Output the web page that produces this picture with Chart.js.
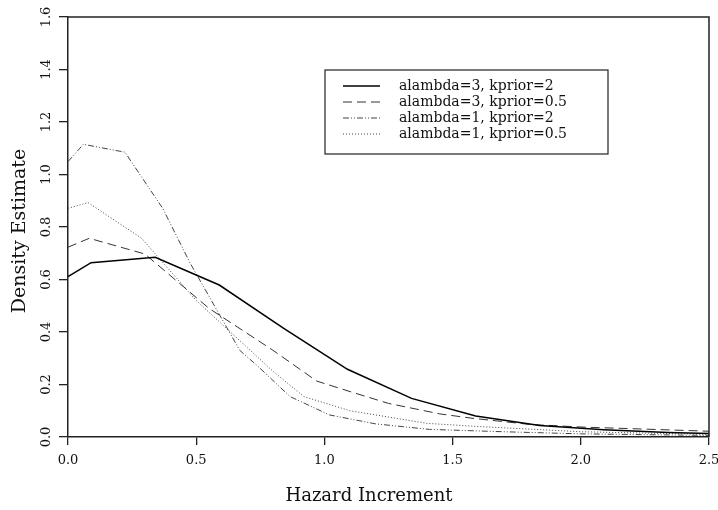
<!DOCTYPE html>
<html>
<head>
<meta charset="utf-8">
<script src="https://cdn.jsdelivr.net/npm/chart.js@4"></script>
<style>
  html, body { margin: 0; padding: 0; background: #fff; }
</style>
</head>
<body>
<canvas id="c" width="718" height="510"></canvas>
<script>
// series labels
const seriesLabels = [
    'alambda=3, kprior=2',
    'alambda=3, kprior=0.5',
    'alambda=1, kprior=2',
    'alambda=1, kprior=0.5'
];

// alambda=3, kprior=2
const a3k2X = [0, 0.09, 0.34, 0.59, 0.84, 1.09, 1.34, 1.59, 1.84, 2.09, 2.34, 2.5];
const a3k2Y = [0.611, 0.664, 0.685, 0.579, 0.415, 0.258, 0.147, 0.080, 0.044, 0.028, 0.017, 0.013];

// alambda=3, kprior=0.5
const a3k05X = [0, 0.083, 0.30, 0.55, 0.80, 0.97, 1.10, 1.25, 1.45, 1.58, 1.80, 2.0, 2.5];
const a3k05Y = [0.723, 0.757, 0.697, 0.49, 0.33, 0.213, 0.173, 0.128, 0.088, 0.071, 0.048, 0.038, 0.022];

// alambda=1, kprior=2
const a1k2X = [0, 0.06, 0.222, 0.37, 0.476, 0.60, 0.67, 0.74, 0.866, 1.02, 1.2, 1.41, 1.7, 2.0, 2.5];
const a1k2Y = [1.049, 1.115, 1.085, 0.87, 0.663, 0.45, 0.33, 0.27, 0.154, 0.084, 0.05, 0.029, 0.02, 0.012, 0.006];

// alambda=1, kprior=0.5
const a1k05X = [0, 0.078, 0.287, 0.5, 0.7, 0.8, 0.92, 1.1, 1.4, 1.6, 2.0, 2.5];
const a1k05Y = [0.871, 0.893, 0.757, 0.52, 0.34, 0.25, 0.154, 0.10, 0.052, 0.04, 0.02, 0.01];

const xTicks = [0, 0.5, 1.0, 1.5, 2.0, 2.5];
const yTicks = [0, 0.2, 0.4, 0.6, 0.8, 1.0, 1.2, 1.4, 1.6];

function pts(xs, ys) {
    return xs.map((x, i) => ({ x: x, y: ys[i] }));
}

const serif = "'DejaVu Serif', serif";

// axis titles, rotated y tick labels, box and legend
const decor = {
    id: 'decor',
    afterDraw(chart) {
        const ctx = chart.ctx;
        const a = chart.chartArea;
        const ys = chart.scales.y;
        ctx.save();
        ctx.strokeStyle = '#222';
        ctx.lineWidth = 1.5;
        ctx.beginPath();
        ctx.moveTo(a.left, a.top);
        ctx.lineTo(a.right, a.top);
        ctx.lineTo(a.right, a.bottom);
        ctx.stroke();

        ctx.fillStyle = '#111';
        ctx.font = '13px ' + serif;
        ctx.textAlign = 'center';
        ctx.textBaseline = 'middle';
        yTicks.forEach(v => {
            ctx.save();
            ctx.translate(47, ys.getPixelForValue(v));
            ctx.rotate(-Math.PI / 2);
            ctx.fillText(v.toFixed(1), 0, 0);
            ctx.restore();
        });

        ctx.font = '18px ' + serif;
        ctx.fillText('Hazard Increment', 369, 496);
        ctx.font = '19px ' + serif;
        ctx.save();
        ctx.translate(20, 231);
        ctx.rotate(-Math.PI / 2);
        ctx.fillText('Density Estimate', 0, 0);
        ctx.restore();

        // legend
        ctx.lineWidth = 1.2;
        ctx.strokeStyle = '#222';
        ctx.strokeRect(325, 70, 283, 84);
        ctx.font = '14px ' + serif;
        ctx.textAlign = 'left';
        chart.data.datasets.forEach((ds, i) => {
            const y = 86 + i * 16;
            ctx.strokeStyle = ds.borderColor;
            ctx.lineWidth = ds.borderWidth;
            ctx.setLineDash(ds.borderDash || []);
            ctx.beginPath();
            ctx.moveTo(343, y);
            ctx.lineTo(380, y);
            ctx.stroke();
            ctx.setLineDash([]);
            ctx.fillText(ds.label, 399, y);
        });
        ctx.restore();
    }
};

new Chart(document.getElementById('c'), {
    type: 'line',
    data: {
        datasets: [
            { label: seriesLabels[0], data: pts(a3k2X, a3k2Y), borderColor: '#000', borderWidth: 1.5, borderDash: [] },
            { label: seriesLabels[1], data: pts(a3k05X, a3k05Y), borderColor: '#333', borderWidth: 1, borderDash: [9, 5] },
            { label: seriesLabels[2], data: pts(a1k2X, a1k2Y), borderColor: '#444', borderWidth: 1, borderDash: [6, 2, 1, 2, 1, 2] },
            { label: seriesLabels[3], data: pts(a1k05X, a1k05Y), borderColor: '#444', borderWidth: 1, borderDash: [1, 2] }
        ]
    },
    options: {
        responsive: false,
        animation: false,
        elements: { point: { radius: 0 }, line: { tension: 0, fill: false } },
        layout: { padding: { left: 0, right: 9, top: 17, bottom: 0 } },
        plugins: { legend: { display: false }, tooltip: { enabled: false } },
        scales: {
            x: {
                type: 'linear',
                min: 0,
                max: 2.5,
                afterBuildTicks(s) { s.ticks = xTicks.map(v => ({ value: v })); },
                ticks: { callback: v => v.toFixed(1), font: { family: serif, size: 13 }, color: '#111', padding: 8, maxRotation: 0, autoSkip: false },
                grid: { drawOnChartArea: false, tickLength: 8, color: '#222', lineWidth: 1.3 },
                border: { color: '#222', width: 1.5 },
                afterFit(s) { s.height = 73; s.paddingLeft = 0; s.paddingRight = 0; }
            },
            y: {
                type: 'linear',
                min: 0,
                max: 1.6,
                afterBuildTicks(s) { s.ticks = yTicks.map(v => ({ value: v })); },
                ticks: { display: false },
                grid: { drawOnChartArea: false, tickLength: 9, color: '#222', lineWidth: 1.3 },
                border: { color: '#222', width: 1.5 },
                afterFit(s) { s.width = 68; }
            }
        }
    },
    plugins: [decor]
});
</script>
</body>
</html>
